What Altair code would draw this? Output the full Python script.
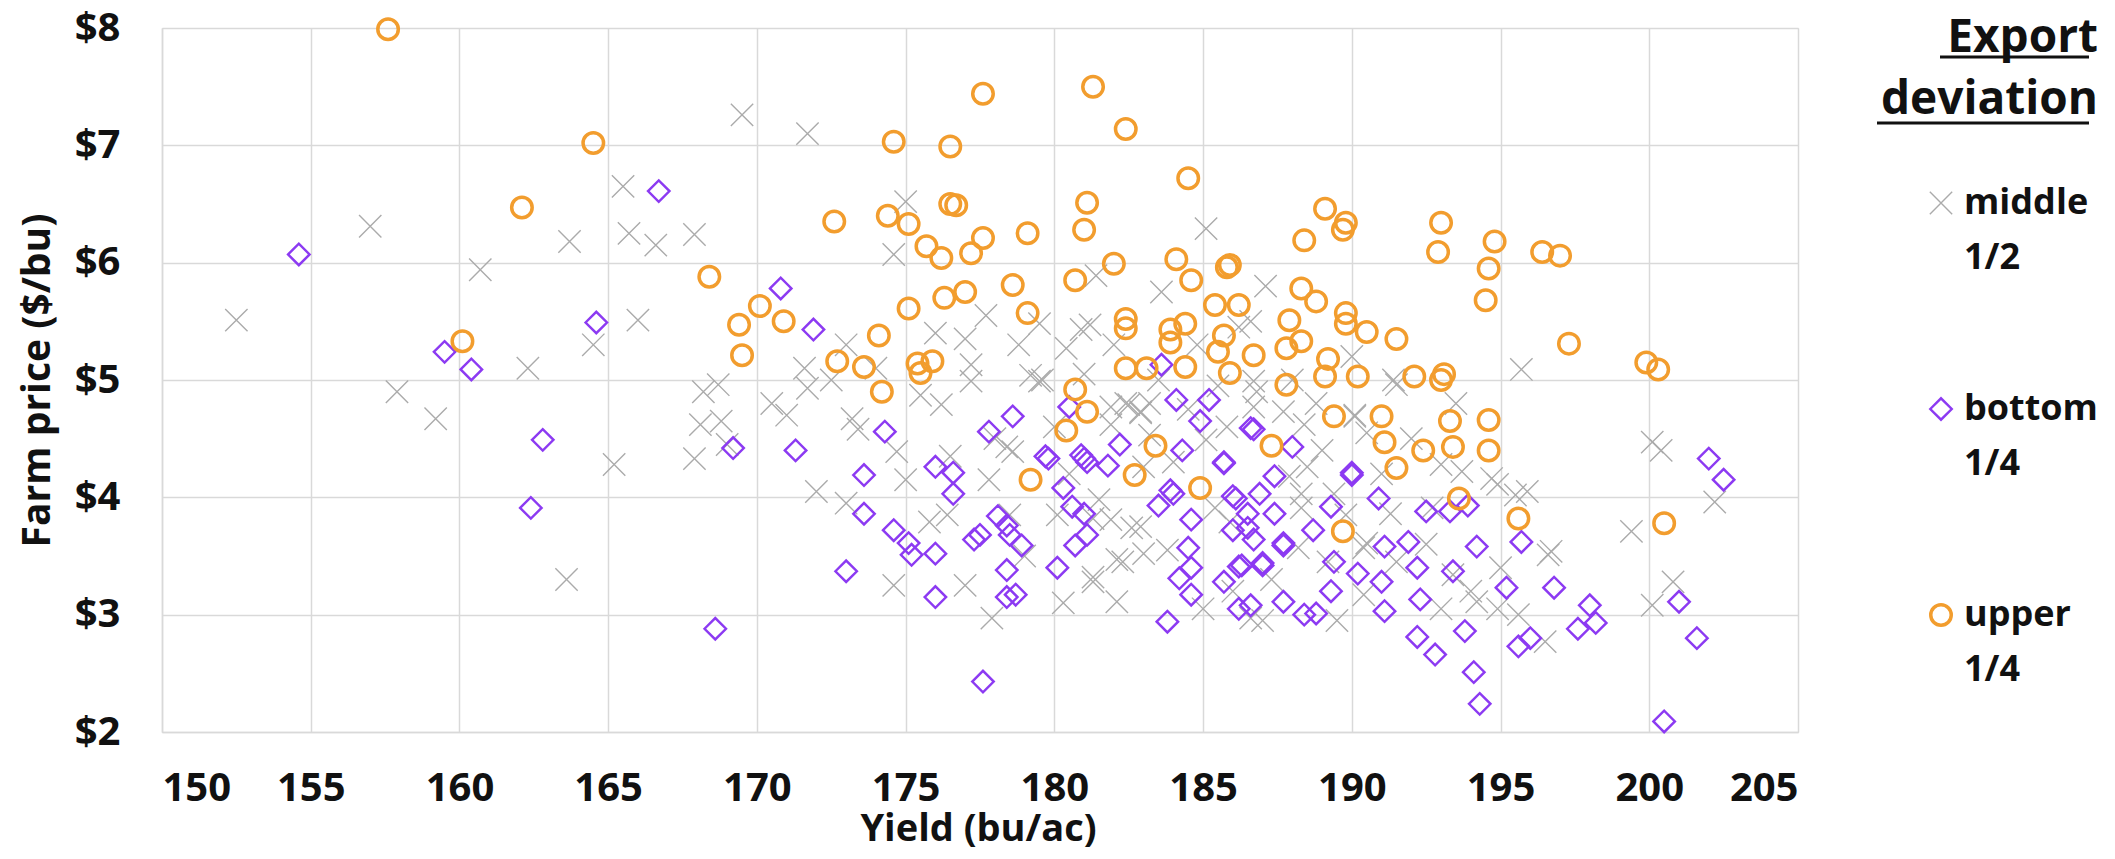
import altair as alt
import pandas as pd

# ---- data -------------------------------------------------------------
upper_x = [157.6, 164.5, 162.1, 168.4, 160.1, 177.6, 181.3, 182.4, 174.6, 176.5,
           184.5, 176.5, 176.7, 181.1, 172.6, 174.4, 175.1, 175.7, 176.2, 177.2,
           177.6, 179.1, 181.0, 170.1, 169.4, 170.9, 169.5, 174.1, 175.1, 176.3,
           177.0, 178.6, 179.1, 180.7, 182.0, 184.1, 184.6, 185.8, 185.9, 185.4,
           186.2, 182.4, 182.4, 183.9, 184.4, 183.9, 185.7, 185.5, 185.9, 186.7,
           187.8, 188.3, 187.8, 189.1, 189.8, 189.7, 188.4, 193.0, 192.9, 194.8,
           194.6, 196.4, 197.0, 194.5, 197.3, 199.9, 200.3, 188.3, 188.8, 189.8,
           189.8, 187.9, 190.5, 191.5, 189.2, 189.1, 190.2, 193.0, 192.1, 193.1,
           172.7, 173.6, 175.4, 175.9, 175.5, 182.4, 183.1, 184.4, 174.2, 180.7,
           181.1, 180.4, 179.2, 183.4, 182.7, 184.9, 189.4, 191.0, 191.1, 191.5,
           193.3, 193.4, 194.6, 194.6, 187.3, 192.4, 193.6, 189.7, 195.6, 200.5]
upper_y = [7.99, 7.02, 6.47, 5.88, 5.33, 7.44, 7.50, 7.14, 7.03, 6.99,
           6.72, 6.50, 6.49, 6.51, 6.35, 6.40, 6.33, 6.14, 6.04, 6.08,
           6.21, 6.25, 6.28, 5.63, 5.47, 5.50, 5.21, 5.38, 5.61, 5.70,
           5.75, 5.81, 5.57, 5.85, 5.99, 6.03, 5.85, 5.96, 5.98, 5.64,
           5.64, 5.52, 5.44, 5.43, 5.48, 5.32, 5.38, 5.24, 5.06, 5.21,
           5.27, 5.33, 4.96, 6.46, 6.34, 6.28, 6.19, 6.34, 6.09, 6.18,
           5.95, 6.09, 6.06, 5.68, 5.31, 5.15, 5.09, 5.78, 5.67, 5.57,
           5.48, 5.51, 5.41, 5.35, 5.18, 5.03, 5.03, 5.00, 5.03, 5.05,
           5.16, 5.11, 5.14, 5.16, 5.06, 5.10, 5.10, 5.11, 4.90, 4.92,
           4.73, 4.57, 4.15, 4.44, 4.19, 4.08, 4.69, 4.69, 4.47, 4.25,
           4.65, 4.43, 4.66, 4.40, 4.44, 4.40, 3.99, 3.71, 3.82, 3.78]

bottom_x = [154.6, 166.7, 164.6, 159.5, 160.4, 162.8, 162.4, 168.6, 170.8, 171.9,
            169.2, 171.3, 174.3, 173.6, 173.6, 174.6, 175.1, 175.2, 176.0, 173.0,
            176.0, 176.0, 176.6, 176.6, 177.8, 178.6, 177.3, 177.5, 178.1, 178.4,
            178.5, 178.9, 178.4, 178.4, 178.7, 180.1, 177.6, 179.7, 180.3, 180.6,
            181.0, 180.7, 181.1, 181.0, 181.1, 180.9, 181.8, 182.2, 179.8, 180.5,
            183.6, 184.1, 185.2, 184.9, 184.3, 183.5, 183.9, 184.0, 184.6, 184.5,
            184.2, 184.6, 184.6, 185.7, 183.8, 185.7, 186.6, 186.7, 186.1, 186.5,
            186.3, 186.2, 186.6, 185.7, 188.0, 187.4, 186.0, 186.5, 186.9, 186.0,
            186.7, 187.4, 187.7, 186.2, 187.0, 188.7, 189.3, 190.0, 190.9, 189.4,
            191.1, 190.2, 190.0, 187.7, 187.0, 187.7, 188.4, 188.8, 191.0, 191.1,
            191.9, 192.2, 192.3, 189.3, 193.4, 194.2, 195.7, 192.2, 192.8, 193.8,
            194.1, 194.3, 195.2, 196.8, 195.6, 196.0, 197.6, 198.0, 198.2, 201.0,
            201.6, 202.0, 202.5, 200.5, 192.5, 193.3, 193.9]
bottom_y = [6.07, 6.61, 5.49, 5.24, 5.09, 4.49, 3.91, 2.88, 5.78, 5.43,
            4.42, 4.40, 4.56, 4.19, 3.86, 3.72, 3.61, 3.51, 3.52, 3.37,
            3.15, 4.26, 4.21, 4.03, 4.56, 4.69, 3.64, 3.68, 3.84, 3.76,
            3.68, 3.59, 3.38, 3.15, 3.17, 3.40, 2.43, 4.35, 4.08, 3.92,
            3.86, 3.59, 3.68, 4.33, 4.30, 4.36, 4.27, 4.45, 4.33, 4.77,
            5.13, 4.83, 4.83, 4.65, 4.40, 3.93, 4.06, 4.03, 3.81, 3.57,
            3.31, 3.40, 3.17, 3.28, 2.94, 4.29, 4.59, 4.58, 3.99, 3.74,
            3.42, 3.05, 3.08, 4.30, 4.43, 4.18, 4.01, 3.86, 4.03, 3.72,
            3.64, 3.86, 3.61, 3.41, 3.44, 3.72, 3.92, 4.21, 3.99, 3.45,
            3.58, 3.35, 4.19, 3.59, 3.42, 3.11, 3.00, 3.01, 3.28, 3.03,
            3.62, 3.40, 3.13, 3.20, 3.37, 3.58, 3.62, 2.81, 2.66, 2.86,
            2.51, 2.24, 3.23, 3.23, 2.73, 2.80, 2.88, 3.08, 2.93, 3.11,
            2.80, 4.33, 4.15, 2.09, 3.88, 3.88, 3.93]

middle_x = [152.5, 157.0, 157.9, 159.2, 160.7, 162.3, 163.7, 163.6, 164.5, 165.2,
            165.5, 165.7, 166.0, 166.6, 167.9, 167.9, 168.1, 168.2, 168.7, 168.8,
            169.5, 171.7, 171.0, 171.6, 171.7, 172.0, 173.2, 173.4, 174.7, 175.5,
            176.2, 177.2, 174.6, 175.0, 174.6, 175.8, 176.4, 177.0, 177.9, 177.7,
            177.2, 178.0, 178.6, 178.5, 178.4, 179.2, 179.5, 179.6, 180.1, 180.4,
            180.9, 181.2, 181.4, 181.3, 181.3, 181.3, 181.5, 181.9, 181.9, 181.9,
            182.1, 182.1, 182.3, 182.4, 182.5, 182.6, 182.9, 182.9, 182.9, 183.0,
            183.0, 183.2, 183.2, 183.6, 184.5, 185.1, 185.1, 185.4, 185.8, 185.9,
            186.2, 186.6, 186.6, 186.7, 186.7, 186.8, 187.1, 187.7, 187.9, 188.2,
            188.3, 188.3, 188.4, 188.5, 188.8, 189.2, 189.4, 189.8, 190.1, 190.1,
            190.4, 190.4, 190.5, 190.5, 191.3, 191.4, 191.5, 191.5, 192.7, 193.0,
            193.0, 193.4, 193.7, 194.0, 194.2, 194.7, 194.9, 194.9, 195.5, 195.6,
            195.7, 195.9, 196.5, 196.6, 196.7, 199.4, 200.1, 200.1, 200.4, 200.8,
            202.2, 170.5, 172.5, 173.0, 176.0, 177.0, 178.8, 179.5, 180.0, 180.5,
            181.0, 182.0, 183.5, 184.0, 184.8, 185.5, 186.0, 187.3, 188.0, 189.0,
            190.0, 191.0, 192.0, 192.5, 193.5, 195.0, 179.0, 180.3, 183.8, 185.0,
            187.0, 189.5, 176.5, 177.8, 175.0, 174.0, 173.0, 169.0]
middle_y = [5.51, 6.31, 4.90, 4.67, 5.94, 5.10, 6.18, 3.30, 5.30, 4.28,
            6.65, 6.25, 5.51, 6.15, 6.24, 4.33, 4.62, 4.90, 4.96, 4.65,
            7.26, 7.10, 4.70, 5.10, 4.93, 4.05, 4.67, 4.58, 4.39, 4.87,
            4.79, 4.99, 6.07, 6.52, 3.25, 3.79, 3.85, 3.25, 2.97, 5.55,
            5.13, 4.50, 4.39, 3.85, 4.43, 5.04, 4.99, 5.00, 3.85, 5.27,
            5.43, 5.47, 5.89, 3.82, 3.28, 3.32, 3.98, 4.62, 4.77, 3.81,
            3.47, 3.11, 3.45, 4.80, 4.79, 3.74, 4.73, 4.72, 3.75, 3.52,
            4.26, 4.80, 4.53, 5.75, 4.75, 4.49, 6.29, 3.91, 4.60, 3.79,
            5.45, 5.50, 2.97, 4.99, 4.77, 4.90, 5.80, 4.73, 4.18, 3.57,
            4.03, 3.91, 4.62, 4.26, 4.80, 3.45, 4.03, 3.85, 4.70, 4.69,
            3.57, 3.17, 4.55, 3.61, 3.86, 5.00, 4.96, 3.45, 3.91, 4.28,
            3.05, 3.34, 4.22, 3.20, 3.11, 4.16, 4.11, 3.05, 4.02, 3.00,
            5.09, 4.05, 2.77, 3.51, 3.54, 3.71, 3.08, 4.47, 4.40, 3.28,
            3.96, 4.80, 5.00, 3.95, 5.40, 5.35, 5.30, 5.48, 4.60, 4.20,
            5.05, 5.30, 5.00, 4.30, 5.30, 4.95, 3.20, 3.30, 5.00, 4.40,
            5.20, 4.20, 4.50, 3.60, 4.80, 3.40, 3.50, 3.10, 3.55, 3.05,
            2.95, 2.95, 4.35, 4.15, 4.15, 5.10, 5.30, 4.45]

series = ["middle 1/2", "bottom 1/4", "upper 1/4"]
x_ticks = [150, 155, 160, 165, 170, 175, 180, 185, 190, 195, 200, 205]
y_ticks = [2, 3, 4, 5, 6, 7, 8]

rows = []
for name, xs, ys in [(series[0], middle_x, middle_y),
                     (series[1], bottom_x, bottom_y),
                     (series[2], upper_x, upper_y)]:
    for a, b in zip(xs, ys):
        rows.append({"yield": a, "price": b, "dev": name})
df = pd.DataFrame(rows)

FONT = "Open Sans"
XPATH = "M-1,-1L1,1M-1,1L1,-1"
INK = "#111111"
GRID = "#D9D9D9"

W, H = 1636, 704

points = alt.Chart(df).mark_point(filled=False, opacity=1).encode(
    x=alt.X("yield:Q", title="Yield (bu/ac)",
            scale=alt.Scale(domain=[150, 205], nice=False, zero=False),
            axis=alt.Axis(values=x_ticks, labelFontSize=40, labelFont=FONT,
                          labelFontWeight="bold", labelColor=INK,
                          labelPadding=36, tickSize=0, grid=True,
                          gridColor=GRID, gridWidth=1.5,
                          domainColor=GRID, domainWidth=1.5,
                          titleFont=FONT, titleFontSize=38, titleFontWeight="bold",
                          titleColor=INK, titleX=816, titleY=108,
                          titleBaseline="alphabetic", titleAlign="center")),
    y=alt.Y("price:Q", title="Farm price ($/bu)",
            scale=alt.Scale(domain=[2, 8], nice=False, zero=False),
            axis=alt.Axis(values=y_ticks, labelExpr="'$' + datum.value",
                          labelFontSize=40, labelFont=FONT, labelFontWeight="bold",
                          labelColor=INK, labelPadding=42, tickSize=0,
                          grid=True, gridColor=GRID, gridWidth=1.5,
                          domainColor=GRID, domainWidth=1.5,
                          titleFont=FONT, titleFontSize=39, titleFontWeight="bold",
                          titleColor=INK, titleX=-125, titleY=352,
                          titleAngle=270, titleBaseline="middle", titleAlign="center")),
    color=alt.Color("dev:N",
                    scale=alt.Scale(domain=series, range=["#ABABAB", "#8C3AF2", "#F29D2E"]),
                    legend=alt.Legend(
                        title=["Export", "deviation"], orient="none",
                        legendX=1719, legendY=-12, padding=0,
                        titleFont=FONT, titleFontSize=46, titleFontWeight="bold",
                        titleColor=INK, titleAlign="right", titleAnchor="end",
                        titleLineHeight=62, titlePadding=61, titleLimit=0,
                        labelFont=FONT, labelFontSize=36, labelFontWeight="bold",
                        labelColor=INK, labelLimit=0,
                        labelBaseline="middle",
                        labelExpr="split(datum.label, ' ')",
                        labelOffset=5, symbolOffset=24, rowPadding=115)),
    shape=alt.Shape("dev:N", scale=alt.Scale(domain=series, range=[XPATH, "diamond", "circle"])),
    size=alt.Size("dev:N", scale=alt.Scale(domain=series, range=[500, 420, 480])),
    strokeWidth=alt.StrokeWidth("dev:N", scale=alt.Scale(domain=series, range=[1.4, 3.5, 3.8])),
)

ul = pd.DataFrame({"k": [0]})
under1 = alt.Chart(ul).mark_rule(color=INK, strokeWidth=3).encode(
    x=alt.value(1778), x2=alt.value(1927), y=alt.value(29))
under2 = alt.Chart(ul).mark_rule(color=INK, strokeWidth=3).encode(
    x=alt.value(1715), x2=alt.value(1927), y=alt.value(95))

chart = alt.layer(points, under1, under2).properties(
    width=W, height=H,
    autosize=alt.AutoSizeParams(type="none"),
    padding={"left": 154, "top": 20, "right": 305, "bottom": 118},
).configure_view(stroke=GRID, strokeWidth=1.5).configure(
    style={"guide-label": {"lineHeight": 55}})

chart.save("out.html", embed_options={"renderer": "svg", "actions": False})
